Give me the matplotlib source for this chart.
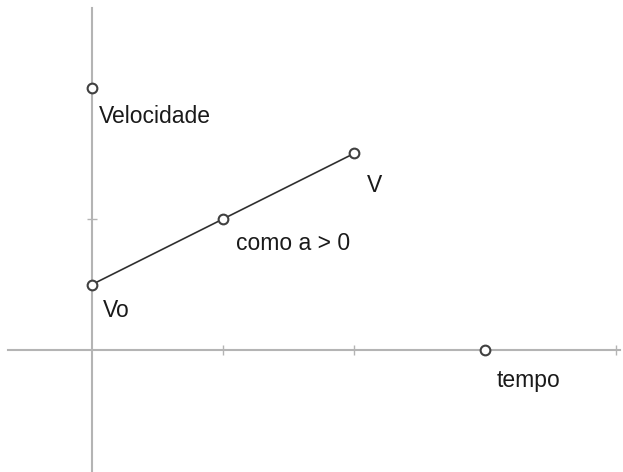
import matplotlib.pyplot as plt

# data (graph units)
line_x = [0, 2, 4]
line_y = [1, 2, 3]
pt_x = [0, 2, 4, 0, 6]
pt_y = [1, 2, 3, 4, 0]
labels = ['Vo', 'como a > 0', 'V', 'Velocidade', 'tempo']
label_offsets = [(11, -26), (13, -25), (13, -32), (7, -29), (12, -30)]
xticks = [2, 4, 6, 8]
yticks = [2, 4]

plt.rcParams['font.family'] = ['Liberation Sans', 'DejaVu Sans']

fig = plt.figure(figsize=(6.23, 4.72), dpi=100)
ax = fig.add_axes([0, 0, 1, 1])
ax.set_xlim(-92 / 65.5, 531 / 65.5)
ax.set_ylim(-122 / 65.5, 350 / 65.5)

axis_col = '#b4b4b4'
for s in ['top', 'right']:
    ax.spines[s].set_visible(False)
ax.spines['left'].set_position(('data', 0))
ax.spines['bottom'].set_position(('data', 0))
ax.spines['bottom'].set_bounds(-84 / 65.5, 528 / 65.5)
ax.spines['left'].set_bounds(-122 / 65.5, 342 / 65.5)
for s in ['left', 'bottom']:
    ax.spines[s].set_color(axis_col)
    ax.spines[s].set_linewidth(1.5)
    ax.spines[s].set_zorder(0)

ax.set_xticks(xticks)
ax.set_yticks(yticks)
ax.set_xticklabels([])
ax.set_yticklabels([])
ax.tick_params(direction='inout', length=7, width=1, color=axis_col)

ax.plot(line_x, line_y, color='#303030', lw=1.2, zorder=2)
ax.plot(pt_x, pt_y, 'o', ms=7, mfc='white', mec='#404040', mew=1.5, zorder=3)

for x, y, t, off in zip(pt_x, pt_y, labels, label_offsets):
    ax.annotate(t, (x, y), xytext=off, textcoords='offset pixels',
                ha='left', va='center', fontsize=16.5, color='#1a1a1a')

fig.savefig('out.png', dpi=100)
